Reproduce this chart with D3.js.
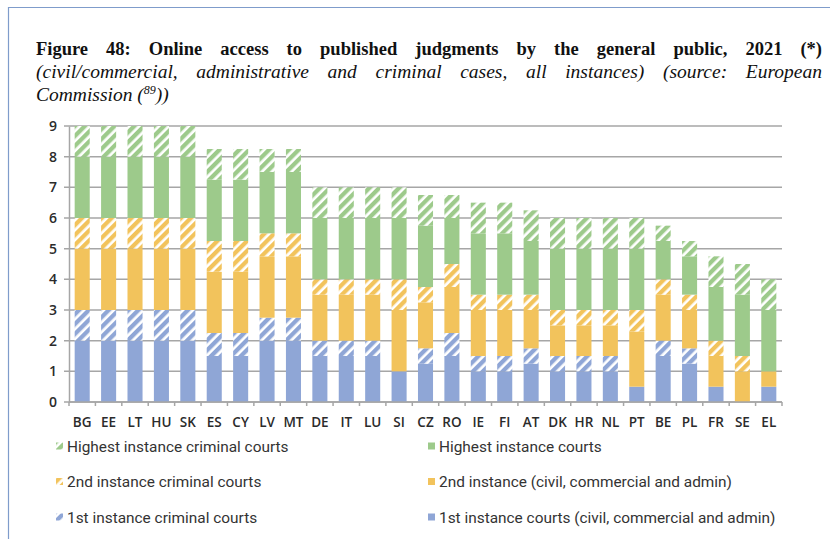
<!DOCTYPE html>
<html>
<head>
<meta charset="utf-8">
<script src="https://cdn.jsdelivr.net/npm/d3@7"></script>
<style>
  body { margin: 0; background: #fff; }
  svg { display: block; }
</style>
</head>
<body>
<div id="chart"></div>
<script>
// chart size and plot margins
const width = 830;
const height = 539;
const margin = {left: 69, right: 48, top: 126, bottom: 137};

// data
const countries = ["BG","EE","LT","HU","SK","ES","CY","LV","MT","DE","IT","LU","SI","CZ",
                   "RO","IE","FI","AT","DK","HR","NL","PT","BE","PL","FR","SE","EL"];
const firstInst       = [2,2,2,2,2,1.5,1.5,2,2,1.5,1.5,1.5,1,1.25,1.5,1,1,1.25,1,1,1,0.5,1.5,1.25,0.5,0,0.5];
const firstCriminal   = [1,1,1,1,1,0.75,0.75,0.75,0.75,0.5,0.5,0.5,0,0.5,0.75,0.5,0.5,0.5,0.5,0.5,0.5,0,0.5,0.5,0,0,0];
const secondInst      = [2,2,2,2,2,2,2,2,2,1.5,1.5,1.5,2,1.5,1.5,1.5,1.5,1.25,1,1,1,1.8,1.5,1.25,1,1,0.5];
const secondCriminal  = [1,1,1,1,1,1,1,0.75,0.75,0.5,0.5,0.5,1,0.5,0.75,0.5,0.5,0.5,0.5,0.5,0.5,0.7,0.5,0.5,0.5,0.5,0];
const highestInst     = [2,2,2,2,2,2,2,2,2,2,2,2,2,2,1.5,2,2,1.75,2,2,2,2,1.25,1.25,1.75,2,2];
const highestCriminal = [1,1,1,1,1,1,1,0.75,0.75,1,1,1,1,1,0.75,1,1,1,1,1,1,1,0.5,0.5,1,1,1];
const yTicks = [0,1,2,3,4,5,6,7,8,9];

// series in stacking order (bottom to top)
const series = [
  {key: "first",  label: "1st instance courts (civil, commercial and admin)", values: firstInst,       color: "#8fa6d6", hatch: false},
  {key: "firstC", label: "1st instance criminal courts",                       values: firstCriminal,   color: "#8fa6d6", hatch: true},
  {key: "second", label: "2nd instance (civil, commercial and admin)",         values: secondInst,      color: "#f2c35c", hatch: false},
  {key: "secondC",label: "2nd instance criminal courts",                       values: secondCriminal,  color: "#f2c35c", hatch: true},
  {key: "high",   label: "Highest instance courts",                            values: highestInst,     color: "#9dca8b", hatch: false},
  {key: "highC",  label: "Highest instance criminal courts",                   values: highestCriminal, color: "#9dca8b", hatch: true}
];

const rows = countries.map((c, i) => {
  const r = {country: c};
  series.forEach(s => { r[s.key] = s.values[i]; });
  return r;
});

const svg = d3.select("#chart").append("svg")
  .attr("width", width)
  .attr("height", height);

// hatch patterns
const defs = svg.append("defs");
series.filter(s => s.hatch).forEach(s => {
  const p = defs.append("pattern")
    .attr("id", "hatch-" + s.key)
    .attr("patternUnits", "userSpaceOnUse")
    .attr("width", 7).attr("height", 7)
    .attr("patternTransform", "rotate(45)");
  p.append("rect").attr("width", 7).attr("height", 7).attr("fill", "#fff");
  p.append("rect").attr("width", 4.3).attr("height", 7).attr("fill", s.color);
});
const fillOf = s => s.hatch ? `url(#hatch-${s.key})` : s.color;

// page frame (blue rule at top and left)
svg.append("line").attr("x1", 8).attr("x2", width).attr("y1", 7.5).attr("y2", 7.5)
  .attr("stroke", "#7f9ccb").attr("stroke-width", 1.2);
svg.append("line").attr("x1", 8.5).attr("x2", 8.5).attr("y1", 7).attr("y2", height)
  .attr("stroke", "#7f9ccb").attr("stroke-width", 1.2);

// title, justified word by word
function justify(words, x0, x1, y, style) {
  const g = svg.append("g");
  const nodes = words.map(w => {
    const t = g.append("text").attr("y", y).text(w);
    style(t);
    return t;
  });
  const widths = nodes.map(n => n.node().getComputedTextLength());
  const gap = (x1 - x0 - d3.sum(widths)) / (words.length - 1);
  let x = x0;
  nodes.forEach((n, i) => { n.attr("x", x); x += widths[i] + gap; });
}
const serif = "'Liberation Serif', 'Times New Roman', serif";
justify("Figure 48: Online access to published judgments by the general public, 2021 (*)".split(" "),
  36, 822, 55, t => t.attr("font-family", serif).attr("font-size", 18.5).attr("font-weight", "bold").attr("fill", "#111"));
justify("(civil/commercial, administrative and criminal cases, all instances) (source: European".split(" "),
  36, 822, 78, t => t.attr("font-family", serif).attr("font-size", 19.5).attr("font-style", "italic").attr("fill", "#111"));
const t3 = svg.append("text").attr("x", 36).attr("y", 101)
  .attr("font-family", serif).attr("font-size", 19.5).attr("font-style", "italic").attr("fill", "#111");
t3.append("tspan").text("Commission (");
t3.append("tspan").attr("font-size", 12).attr("dy", -7).text("89");
t3.append("tspan").attr("dy", 7).text("))");

// scales
const x = d3.scaleBand()
  .domain(countries)
  .range([margin.left, width - margin.right])
  .paddingInner(0.43)
  .paddingOuter(0.215);

const y = d3.scaleLinear()
  .domain([0, 9])
  .range([height - margin.bottom, margin.top]);

// gridlines
svg.append("g")
  .selectAll("line")
  .data(yTicks)
  .join("line")
    .attr("x1", margin.left - 5)
    .attr("x2", width - margin.right)
    .attr("y1", d => y(d))
    .attr("y2", d => y(d))
    .attr("stroke", "#a6a6a6")
    .attr("stroke-width", 1.5);

// y axis
const yAxis = svg.append("g")
  .attr("transform", `translate(${margin.left},0)`)
  .call(d3.axisLeft(y).tickValues(yTicks).tickSize(0).tickPadding(12));
yAxis.select(".domain").attr("stroke", "#a6a6a6").attr("stroke-width", 1.5);
yAxis.selectAll("text")
  .attr("font-family", "'Open Sans', sans-serif")
  .attr("font-size", 14)
  .attr("font-weight", 600)
  .attr("fill", "#2b2b2b");

// stacked bars
const stack = d3.stack().keys(series.map(s => s.key));
const layers = stack(rows);

svg.append("g")
  .selectAll("g")
  .data(layers)
  .join("g")
    .attr("fill", (d, i) => fillOf(series[i]))
  .selectAll("rect")
  .data(d => d)
  .join("rect")
    .attr("x", d => x(d.data.country))
    .attr("y", d => y(d[1]))
    .attr("height", d => y(d[0]) - y(d[1]))
    .attr("width", x.bandwidth());

// x axis: line, ticks between categories, labels
const xAxis = svg.append("g")
  .attr("transform", `translate(0,${height - margin.bottom})`);
xAxis.append("line")
  .attr("x1", margin.left).attr("x2", width - margin.right)
  .attr("stroke", "#a6a6a6").attr("stroke-width", 1.5);
xAxis.selectAll(".tick-line")
  .data(d3.range(countries.length + 1))
  .join("line")
    .attr("class", "tick-line")
    .attr("x1", i => margin.left + i * x.step())
    .attr("x2", i => margin.left + i * x.step())
    .attr("y1", 0).attr("y2", 4)
    .attr("stroke", "#a6a6a6").attr("stroke-width", 1.5);
xAxis.selectAll(".label")
  .data(countries)
  .join("text")
    .attr("class", "label")
    .attr("x", d => x(d) + x.bandwidth() / 2)
    .attr("y", 25)
    .attr("text-anchor", "middle")
    .attr("font-family", "'Open Sans', sans-serif")
    .attr("font-size", 13.5)
    .attr("font-weight", 600)
    .attr("fill", "#2b2b2b")
    .text(d => d);

// legend, two columns
const legendOrder = ["highC", "high", "secondC", "second", "firstC", "first"];
const legend = svg.append("g");
legendOrder.forEach((k, i) => {
  const s = series.find(d => d.key === k);
  const lx = i % 2 === 0 ? 56 : 428;
  const ly = 446 + Math.floor(i / 2) * 35.5;
  legend.append("rect")
    .attr("x", lx).attr("y", ly - 3.5)
    .attr("width", 7).attr("height", 7)
    .attr("fill", fillOf(s));
  legend.append("text")
    .attr("x", lx + 11).attr("y", ly + 5.5)
    .attr("font-family", "Roboto, sans-serif")
    .attr("font-size", 15.4)
    .attr("fill", "#333")
    .text(s.label);
});
</script>
</body>
</html>
